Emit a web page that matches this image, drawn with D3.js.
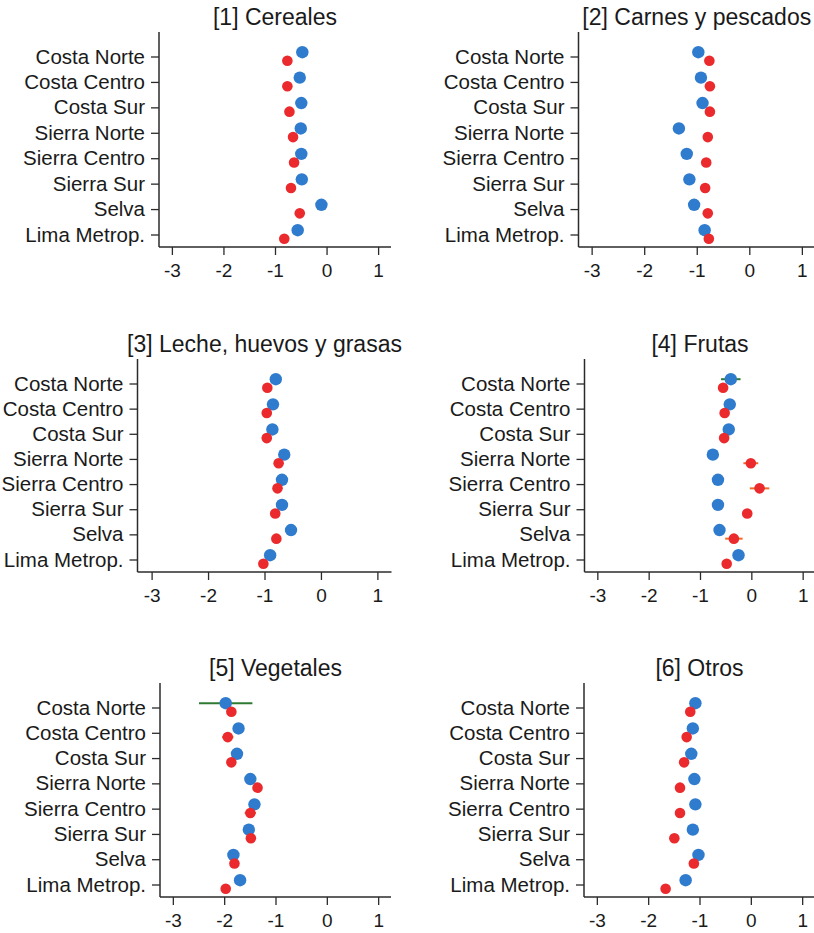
<!DOCTYPE html>
<html>
<head>
<meta charset="utf-8">
<script src="https://cdn.jsdelivr.net/npm/d3@7"></script>
<style>
  body { margin: 0; background: #fff; }
  svg { display: block; background: #fff; }
</style>
</head>
<body>
<script>
const regions = ['Costa Norte', 'Costa Centro', 'Costa Sur', 'Sierra Norte', 'Sierra Centro', 'Sierra Sur', 'Selva', 'Lima Metrop.']
const xTicks = [-3, -2, -1, 0, 1]
const titles = ['[1] Cereales', '[2] Carnes y pescados', '[3] Leche, huevos y grasas', '[4] Frutas', '[5] Vegetales', '[6] Otros']

// blue series / red series, one value per region
const cerealesBlue = [-0.47, -0.52, -0.49, -0.50, -0.49, -0.48, -0.10, -0.56]
const cerealesRed = [-0.76, -0.76, -0.72, -0.65, -0.63, -0.69, -0.52, -0.82]
const carnesBlue = [-0.97, -0.92, -0.89, -1.34, -1.19, -1.14, -1.05, -0.85]
const carnesRed = [-0.76, -0.75, -0.75, -0.79, -0.82, -0.84, -0.79, -0.77]
const lecheBlue = [-0.80, -0.85, -0.86, -0.65, -0.69, -0.69, -0.53, -0.90]
const lecheRed = [-0.95, -0.96, -0.96, -0.75, -0.77, -0.81, -0.79, -1.02]
const frutasBlue = [-0.40, -0.42, -0.44, -0.75, -0.65, -0.65, -0.62, -0.25]
const frutasRed = [-0.55, -0.52, -0.53, -0.01, 0.16, -0.08, -0.34, -0.48]
const vegetalesBlue = [-1.97, -1.72, -1.75, -1.49, -1.41, -1.52, -1.82, -1.69]
const vegetalesRed = [-1.86, -1.93, -1.86, -1.35, -1.49, -1.48, -1.80, -1.97]
const otrosBlue = [-1.08, -1.13, -1.16, -1.10, -1.08, -1.13, -1.02, -1.27]
const otrosRed = [-1.18, -1.25, -1.30, -1.38, -1.38, -1.49, -1.11, -1.66]

// confidence interval half-widths (most are hidden behind the markers)
const cerealesBlueCI = [0.03, 0.03, 0.03, 0.03, 0.03, 0.03, 0.04, 0.03]
const cerealesRedCI = [0.03, 0.03, 0.03, 0.03, 0.03, 0.03, 0.04, 0.03]
const carnesBlueCI = [0.03, 0.03, 0.03, 0.04, 0.04, 0.04, 0.04, 0.03]
const carnesRedCI = [0.03, 0.03, 0.03, 0.03, 0.03, 0.03, 0.03, 0.03]
const lecheBlueCI = [0.03, 0.03, 0.03, 0.03, 0.03, 0.03, 0.04, 0.03]
const lecheRedCI = [0.03, 0.03, 0.03, 0.03, 0.03, 0.03, 0.03, 0.03]
const frutasBlueCI = [0.19, 0.05, 0.05, 0.05, 0.05, 0.05, 0.05, 0.05]
const frutasRedCI = [0.06, 0.05, 0.05, 0.145, 0.19, 0.08, 0.17, 0.05]
const vegetalesBlueCI = [0.52, 0.06, 0.06, 0.05, 0.05, 0.05, 0.05, 0.05]
const vegetalesRedCI = [0.06, 0.11, 0.06, 0.05, 0.11, 0.06, 0.05, 0.05]
const otrosBlueCI = [0.03, 0.03, 0.03, 0.03, 0.03, 0.03, 0.03, 0.03]
const otrosRedCI = [0.03, 0.03, 0.03, 0.03, 0.03, 0.03, 0.03, 0.03]

const panels = [
  { title: titles[0], blue: cerealesBlue, red: cerealesRed, blueCI: cerealesBlueCI, redCI: cerealesRedCI },
  { title: titles[1], blue: carnesBlue, red: carnesRed, blueCI: carnesBlueCI, redCI: carnesRedCI },
  { title: titles[2], blue: lecheBlue, red: lecheRed, blueCI: lecheBlueCI, redCI: lecheRedCI },
  { title: titles[3], blue: frutasBlue, red: frutasRed, blueCI: frutasBlueCI, redCI: frutasRedCI },
  { title: titles[4], blue: vegetalesBlue, red: vegetalesRed, blueCI: vegetalesBlueCI, redCI: vegetalesRedCI },
  { title: titles[5], blue: otrosBlue, red: otrosRed, blueCI: otrosBlueCI, redCI: otrosRedCI }
]

// plot boxes: y axis position, right end of x axis, top of y axis, x axis position
const layout = [
  { left: 159, right: 391, top: 32, bottom: 247 },
  { left: 578.5, right: 815, top: 32, bottom: 247 },
  { left: 137.5, right: 391.5, top: 359, bottom: 572 },
  { left: 584.5, right: 815.5, top: 359, bottom: 572 },
  { left: 160, right: 391, top: 683, bottom: 897 },
  { left: 584, right: 815, top: 683, bottom: 897 }
]

const font = "'Liberation Sans', Arial, Helvetica, sans-serif"
const textColor = '#1a1a1a'
const axisColor = '#2b2b2b'
const blueColor = '#2f7bcd'
const redColor = '#ea2a2c'
const blueCIColor = '#2e7a32'
const redCIColor = '#f26a26'

const svg = d3.select('body').append('svg')
  .attr('width', 814)
  .attr('height', 933)
  .style('font-family', font)

panels.forEach((p, i) => drawPanel(svg.append('g'), p, layout[i]))

function drawPanel(g, p, L) {
  const x = d3.scaleLinear().domain([-3.25, 1.25]).range([L.left, L.right])
  const y = d3.scalePoint().domain(regions).range([L.top + 24.5, L.bottom - 12.5])
  const off = 4.3

  // title
  g.append('text')
    .attr('x', (L.left + L.right) / 2)
    .attr('y', L.top - 7)
    .attr('text-anchor', 'middle')
    .attr('font-size', 23)
    .attr('fill', textColor)
    .text(p.title)

  // y axis
  g.append('g')
    .attr('transform', `translate(${L.left},0)`)
    .call(d3.axisLeft(y).tickSize(8).tickPadding(6))
    .call((a) => a.select('.domain').remove())
    .call((a) => a.attr('font-family', font).attr('font-size', 20.5))
    .call((a) => a.selectAll('line').attr('stroke', axisColor).attr('stroke-width', 1.3))
    .call((a) => a.selectAll('text').attr('fill', textColor))

  // x axis
  g.append('g')
    .attr('transform', `translate(0,${L.bottom})`)
    .call(d3.axisBottom(x).tickValues(xTicks).tickSize(8).tickPadding(9).tickFormat((d) => String(d)))
    .call((a) => a.select('.domain').remove())
    .call((a) => a.attr('font-family', font).attr('font-size', 19))
    .call((a) => a.selectAll('line').attr('stroke', axisColor).attr('stroke-width', 1.3))
    .call((a) => a.selectAll('text').attr('fill', textColor))

  // axis lines
  g.append('line')
    .attr('x1', L.left).attr('x2', L.left)
    .attr('y1', L.top).attr('y2', L.bottom)
    .attr('stroke', axisColor).attr('stroke-width', 1.5)
  g.append('line')
    .attr('x1', L.left).attr('x2', L.right)
    .attr('y1', L.bottom).attr('y2', L.bottom)
    .attr('stroke', axisColor).attr('stroke-width', 1.5)

  const rows = regions.map((r, i) => ({
    region: r,
    blue: p.blue[i],
    red: p.red[i],
    blueCI: p.blueCI[i],
    redCI: p.redCI[i]
  }))

  // CI spikes
  g.selectAll('.ci-blue')
    .data(rows)
    .join('line')
    .attr('x1', (d) => x(d.blue - d.blueCI))
    .attr('x2', (d) => x(d.blue + d.blueCI))
    .attr('y1', (d) => y(d.region) - off)
    .attr('y2', (d) => y(d.region) - off)
    .attr('stroke', blueCIColor)
    .attr('stroke-width', 2)
  g.selectAll('.ci-red')
    .data(rows)
    .join('line')
    .attr('x1', (d) => x(d.red - d.redCI))
    .attr('x2', (d) => x(d.red + d.redCI))
    .attr('y1', (d) => y(d.region) + off)
    .attr('y2', (d) => y(d.region) + off)
    .attr('stroke', redCIColor)
    .attr('stroke-width', 2)

  // markers
  g.selectAll('.dot-blue')
    .data(rows)
    .join('circle')
    .attr('cx', (d) => x(d.blue))
    .attr('cy', (d) => y(d.region) - off)
    .attr('r', 6.2)
    .attr('fill', blueColor)
  g.selectAll('.dot-red')
    .data(rows)
    .join('circle')
    .attr('cx', (d) => x(d.red))
    .attr('cy', (d) => y(d.region) + off)
    .attr('r', 5.3)
    .attr('fill', redColor)
}
</script>
</body>
</html>
